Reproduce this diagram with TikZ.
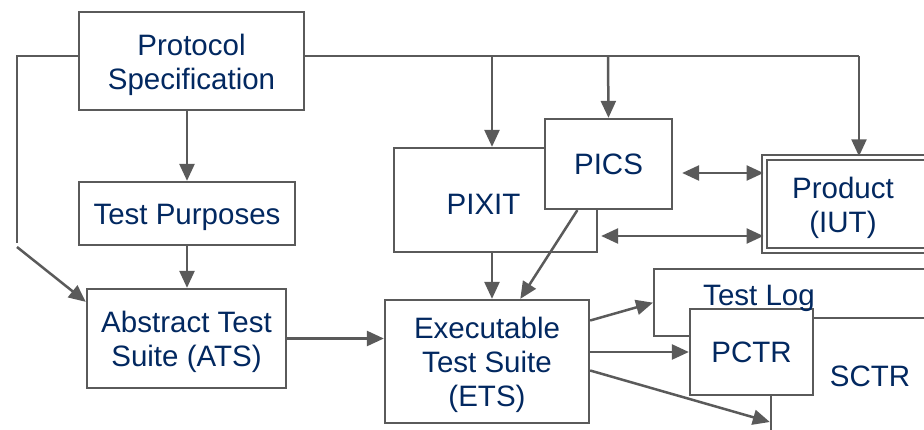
\documentclass[tikz,border=0pt]{standalone}
\usepackage{fontspec}
\setmainfont{Liberation Sans}
\usetikzlibrary{arrows.meta}
\definecolor{lineGray}{RGB}{90,90,90}
\definecolor{textNavy}{RGB}{2,40,96}
\newcommand{\TopStrut}{\rule{0pt}{29pt}}
\begin{document}
\begin{tikzpicture}[x=1pt,y=-1pt,
  box/.style={draw=lineGray,fill=white,line width=2.3pt,text=textNavy,align=center,inner sep=0pt,font=\fontsize{29.5}{34}\selectfont},
  txt/.style={text=textNavy,align=center,inner sep=0pt,font=\fontsize{29.5}{34}\selectfont},
  wire/.style={draw=lineGray,line width=2.5pt},
  arr/.style={wire,-{Triangle[length=17pt,width=15pt]}},
  dblarr/.style={wire,{Triangle[length=17pt,width=15pt]}-{Triangle[length=17pt,width=15pt]}}]
\clip (0,0) rectangle (924,429);
% left column
\node[box,minimum width=225pt,minimum height=98pt] (spec) at (191.5,61) {\TopStrut Protocol\\Specification};
\node[box,minimum width=216pt,minimum height=63pt] (purp) at (187,213.5) {\TopStrut Test Purposes};
\node[box,minimum width=199pt,minimum height=99pt] (ats) at (186.5,338.5) {\TopStrut Abstract Test\\Suite (ATS)};
\node[box,minimum width=204pt,minimum height=123pt] (ets) at (487,361.5) {\TopStrut Executable\\Test Suite\\(ETS)};
% PIXIT and PICS
\node[box,minimum width=203pt,minimum height=104pt] (pixit) at (495.5,200) {\TopStrut PIXIT\hspace*{24pt}};
\node[box,minimum width=127pt,minimum height=90pt] (pics) at (608.5,164) {PICS};
% product under test
\node[box,double=white,double distance=3pt,line width=2pt,minimum width=220pt,minimum height=93.5pt,anchor=west] (prod) at (763.5,204) {};
\node[txt] (prodtxt) at (843,204) {\TopStrut Product\\(IUT)};
% results
\node[box,minimum width=320pt,minimum height=67pt,anchor=north west] (log) at (653,268) {};
\node[box,minimum width=198pt,minimum height=116pt] (sctr) at (870,376) {SCTR};
\node[box,minimum width=123pt,minimum height=86pt] (pctr) at (751.5,352) {PCTR};
\node[txt] (logtxt) at (759,294) {\TopStrut Test Log};
% feeds from the specification
\coordinate (lcorner) at (17,56);
\coordinate (lbend) at (17,243);
\coordinate (lkink) at (17,247);
\coordinate (rtop) at (859,56);
\coordinate (b1) at (492,56);
\coordinate (b2) at (608,56);
\draw[wire] (spec.west |- lcorner) -- (lcorner) -- (lbend);
\draw[arr] (lkink) -- (ats.160);
\draw[wire] (spec.east |- rtop) -- (rtop);
\draw[arr] (rtop) -- (rtop |- prod.north);
\draw[arr] (b1) -- (b1 |- pixit.north);
\draw[arr] (b2) -- (pics.north);
\draw[arr] (spec.south -| purp.north) -- (purp.north);
\draw[arr] (purp.south) -- (purp.south |- ats.north);
\draw[arr] (ats.east) -- (ats.east -| ets.west);
\draw[arr] (pixit.south -| b1) -- (b1 |- ets.north);
\draw[arr] (pics.236) -- (ets.62);
\draw[dblarr] ([xshift=9pt,yshift=-9pt]pics.east) -- ([yshift=31pt]prod.west);
\draw[dblarr] ([xshift=3pt,yshift=-36pt]pixit.east) -- ([yshift=-32pt]prod.west);
% test execution outputs
\draw[arr] ([yshift=41pt]ets.east) -- (log.west);
\draw[arr] (ets.east |- pctr.west) -- (pctr.west);
\draw[arr] ([yshift=-9pt]ets.east) -- ([yshift=-46pt]sctr.west);
\end{tikzpicture}
\end{document}
